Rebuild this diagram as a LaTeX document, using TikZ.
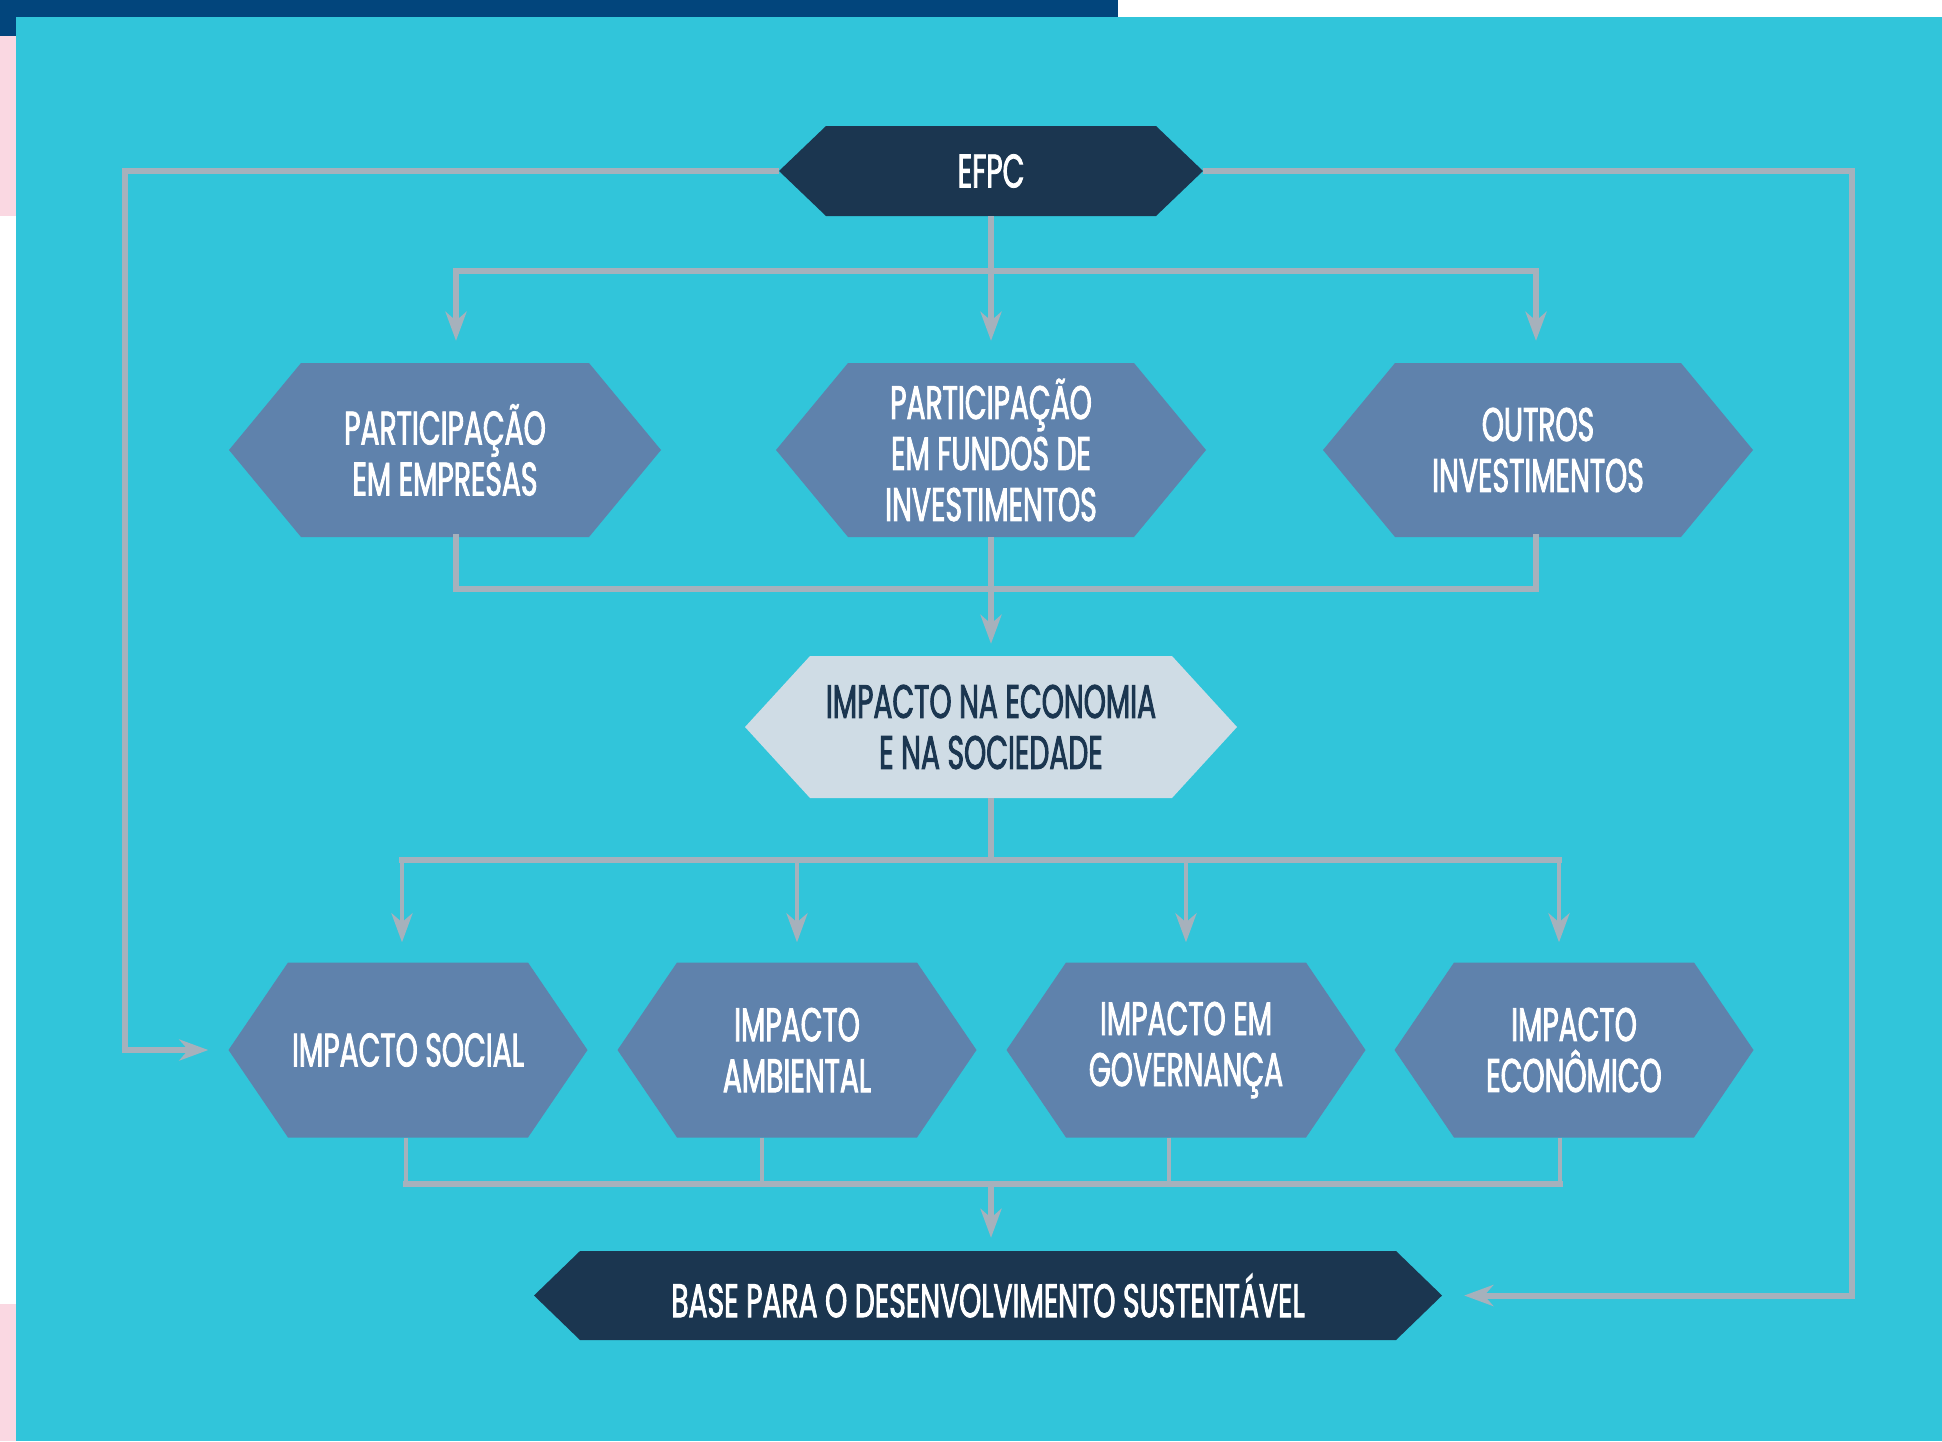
\documentclass[tikz,border=0pt]{standalone}
\usepackage{fontspec}
\setmainfont{Poppins}[FakeStretch=0.6, FakeBold=1.8]
\usetikzlibrary{arrows.meta}
\definecolor{bgcyan}{HTML}{31C5DA}
\definecolor{topbar}{HTML}{02457C}
\definecolor{pinkstrip}{HTML}{FAD8E2}
\definecolor{linegrey}{HTML}{A6B1BC}
\definecolor{navy}{HTML}{1B3650}
\definecolor{midblue}{HTML}{5F82AC}
\definecolor{lightblue}{HTML}{CFDCE5}
\newcommand\hexnode[8]{%
  \fill[#7] ({#2-#4},#3) -- ({#2-#4+#6},{#3-#5}) -- ({#2+#4-#6},{#3-#5}) -- ({#2+#4},#3)
     -- ({#2+#4-#6},{#3+#5}) -- ({#2-#4+#6},{#3+#5}) -- cycle;
  \node[#7, fill=none, minimum width=2*#4pt, minimum height=2*#5pt, inner sep=0pt,
        align=center, font=\fontsize{47}{51}\selectfont] (#1) at (#2,#3) {#8};
}
\begin{document}
\begin{tikzpicture}[x=1pt,y=-1pt,
  hexdark/.style={fill=navy, text=white},
  hexmid/.style={fill=midblue, text=white},
  hexlight/.style={fill=lightblue, text=navy},
  conn/.style={draw=linegrey, line width=6pt},
  thinconn/.style={draw=linegrey, line width=4.5pt},
  arr/.style={-{Stealth[length=29pt,width=21pt,inset=9pt]}},
  bar/.style={line cap=rect}]
% background
\fill[white] (0,0) rectangle (1942,1441);
\fill[topbar] (0,0) rectangle (1118,17);
\fill[topbar] (0,0) rectangle (16,36);
\fill[pinkstrip] (0,36) rectangle (16,216);
\fill[pinkstrip] (0,1304) rectangle (16,1441);
\fill[bgcyan] (16,17) rectangle (1942,1441);
\useasboundingbox (0,0) rectangle (1942,1441);

% nodes
\hexnode{efpc}{991}{171}{212}{45}{47}{hexdark}{EFPC}
\hexnode{pe}{445}{450}{216}{87}{72}{hexmid}{PARTICIPAÇÃO\\EM EMPRESAS}
\hexnode{pf}{991}{450}{215}{87}{72}{hexmid}{PARTICIPAÇÃO\\EM FUNDOS DE\\INVESTIMENTOS}
\hexnode{po}{1538}{450}{215}{87}{72}{hexmid}{OUTROS\\INVESTIMENTOS}
\hexnode{imp}{991}{727}{246}{71}{65}{hexlight}{IMPACTO NA ECONOMIA\\E NA SOCIEDADE}
\hexnode{iso}{408}{1050}{179.5}{87.5}{59.5}{hexmid}{IMPACTO SOCIAL}
\hexnode{iam}{797}{1050}{179.5}{87.5}{59.5}{hexmid}{IMPACTO\\AMBIENTAL}
\hexnode{igo}{1186}{1050}{179.5}{87.5}{59.5}{hexmid}{IMPACTO EM\\GOVERNANÇA}
\hexnode{iec}{1574}{1050}{179.5}{87.5}{59.5}{hexmid}{IMPACTO\\ECONÔMICO}
\hexnode{base}{988}{1295.5}{454}{44.5}{46}{hexdark}{BASE PARA O DESENVOLVIMENTO SUSTENTÁVEL}

% junction coordinates
\coordinate (t1) at (456,271);
\coordinate (t3) at (1536,271);
\coordinate (b1) at (456,589);
\coordinate (b3) at (1536,589);
\coordinate (m1) at (402,860);
\coordinate (m2) at (797,860);
\coordinate (m3) at (1186,860);
\coordinate (m4) at (1559,860);
\coordinate (n1) at (406,1184);
\coordinate (n2) at (762,1184);
\coordinate (n3) at (1169,1184);
\coordinate (n4) at (1560,1184);
\coordinate (nc) at (991,1184);
\coordinate (lb) at (125,1050);
\coordinate (rb) at (1852,1295.5);

% side loops
\draw[conn,arr,shorten >=20pt] (efpc.west) -| (lb) -- (iso.west);
\draw[conn,arr,shorten >=22pt] (efpc.east) -| (rb) -- (base.east);

% EFPC to row 2
\draw[conn,bar] (t1) -- (t3);
\draw[conn,arr,shorten >=22pt] (efpc.south) -- (pf.north);
\draw[conn,arr,shorten >=22pt] (t1) -- (t1 |- pe.north);
\draw[conn,arr,shorten >=22pt] (t3) -- (t3 |- po.north);

% row 2 to impact
\draw[conn,bar] (pe.south -| b1) -- (b1) -- (b3) -- (po.south -| b3);
\draw[conn,arr,shorten >=12pt] (pf.south) -- (imp.north);

% impact to row 3
\draw[conn,bar] (m1) -- (m4);
\draw[conn] (imp.south) -- (imp.south |- m1);
\draw[thinconn,arr,shorten >=20pt] (m1) -- (m1 |- iso.north);
\draw[thinconn,arr,shorten >=20pt] (m2) -- (iam.north);
\draw[thinconn,arr,shorten >=20pt] (m3) -- (igo.north);
\draw[thinconn,arr,shorten >=20pt] (m4) -- (m4 |- iec.north);

% row 3 to base
\draw[conn,bar] (n1) -- (n4);
\draw[thinconn] (iso.south -| n1) -- (n1);
\draw[thinconn] (iam.south -| n2) -- (n2);
\draw[thinconn] (igo.south -| n3) -- (n3);
\draw[thinconn] (iec.south -| n4) -- (n4);
\draw[conn,arr,shorten >=13pt] (nc) -- (nc |- base.north);
\end{tikzpicture}
\end{document}
